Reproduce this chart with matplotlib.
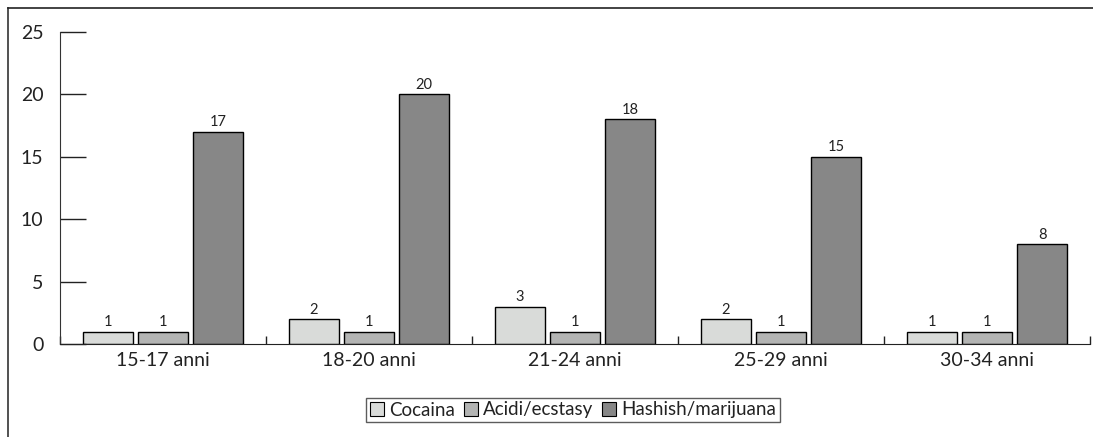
import matplotlib
matplotlib.use("Agg")
import matplotlib.pyplot as plt
from matplotlib.lines import Line2D
import numpy as np

categories = ["15-17 anni", "18-20 anni", "21-24 anni", "25-29 anni", "30-34 anni"]
series_names = ["Cocaina", "Acidi/ecstasy", "Hashish/marijuana"]
cocaina = [1, 2, 3, 2, 1]
acidi = [1, 1, 1, 1, 1]
hashish = [17, 20, 18, 15, 8]
colors = ["#d9dbd9", "#b3b4b3", "#878787"]

plt.rcParams['font.family'] = ['Lato', 'DejaVu Sans']
plt.rcParams['text.color'] = '#222222'
plt.rcParams['xtick.labelcolor'] = '#222222'
plt.rcParams['ytick.labelcolor'] = '#222222'

fig = plt.figure(figsize=(10.93, 4.37), dpi=100)
ax = fig.add_axes([60/1093, 1-344/437, 1030/1093, (344-32)/437])

x = np.arange(len(categories))
width = 0.243
offset = 0.267
for i, (vals, name, c) in enumerate(zip([cocaina, acidi, hashish], series_names, colors)):
    bars = ax.bar(x + (i-1)*offset, vals, width, color=c, edgecolor="black", linewidth=1.0, label=name)
    for b, v in zip(bars, vals):
        ax.text(b.get_x()+b.get_width()/2, v + 0.2, str(v), ha="center", va="bottom", fontsize=10.5,
                color="#222222")

ax.set_xlim(-0.5, len(categories)-0.5)
ax.set_ylim(0, 25)
ax.set_yticks([0, 5, 10, 15, 20, 25])
ax.set_xticks(x)
ax.set_xticklabels(categories)
ax.set_xticks(np.arange(len(categories)+1)-0.5, minor=True)
ax.tick_params(axis="y", direction="in", length=19, width=1, labelsize=14, pad=12, color="#222222")
ax.tick_params(axis="x", which="major", length=0, labelsize=14, pad=6)
ax.tick_params(axis="x", which="minor", direction="in", length=6, width=1, color="#222222")
for s in ["top", "right"]:
    ax.spines[s].set_visible(False)
ax.spines["left"].set_color("#333333")
ax.spines["bottom"].set_color("#222222")

leg = fig.legend(loc="center", bbox_to_anchor=(573/1093, 1-410/437), ncol=3, frameon=True,
                 fancybox=False, edgecolor="#333333", fontsize=13.5, handlelength=0.75, handleheight=0.75,
                 handletextpad=0.25, columnspacing=0.5, borderpad=0.2, borderaxespad=0)
for h in leg.legend_handles:
    h.set_linewidth(0.8)

# outer frame lines
fig.add_artist(Line2D([8/1093, 8/1093], [0, 1-8/437], color="#333333", lw=1.2, transform=fig.transFigure))
fig.add_artist(Line2D([8/1093, 1], [1-8/437, 1-8/437], color="#222222", lw=1.2, transform=fig.transFigure))

fig.savefig("out.png", dpi=100)
